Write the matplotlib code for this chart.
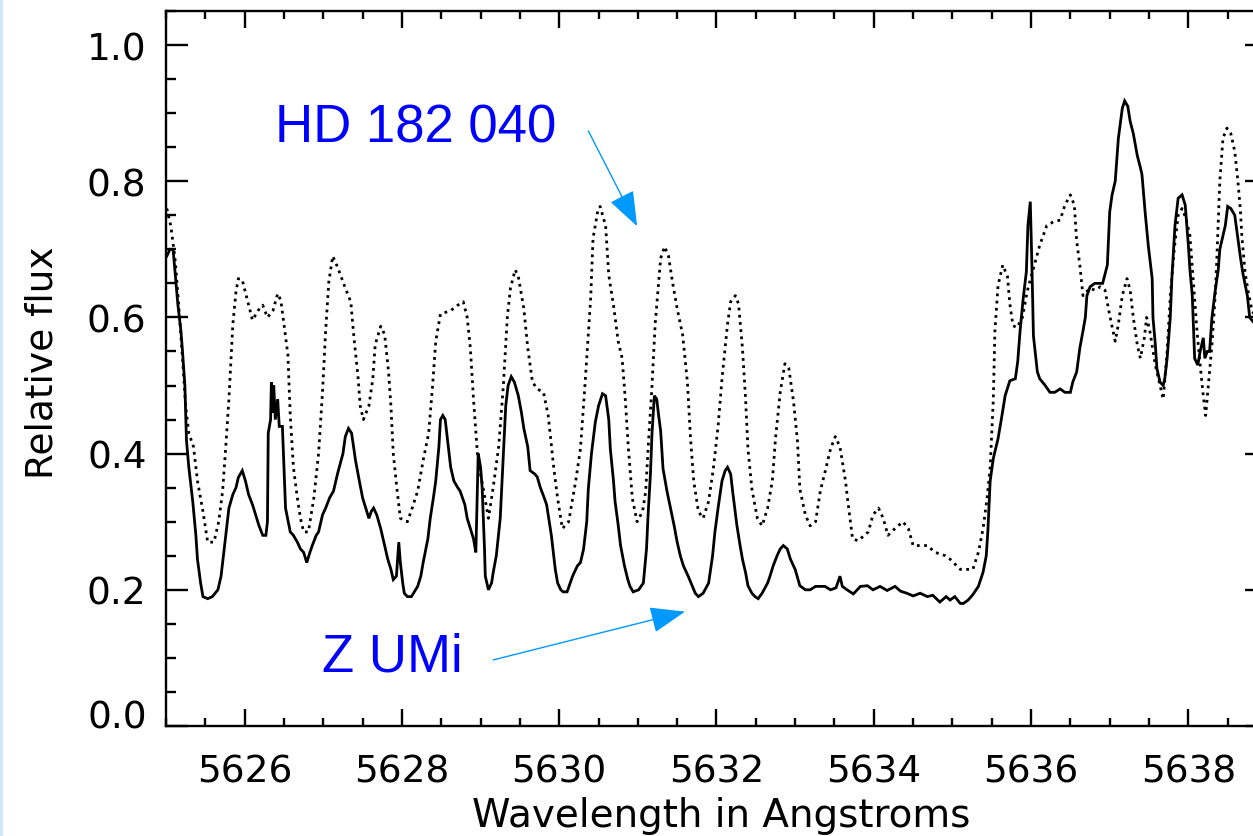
import matplotlib
matplotlib.use('Agg')

import matplotlib.pyplot as plt
import matplotlib.patches as patches
from matplotlib.ticker import MultipleLocator, FixedLocator, FixedFormatter

# Z UMi spectrum (solid)
z_umi_wave = [
    5625.01, 5625.05, 5625.09, 5625.12, 5625.15, 5625.19, 5625.21, 5625.24, 5625.26, 5625.29,
    5625.34, 5625.38, 5625.40, 5625.44, 5625.47, 5625.53, 5625.59, 5625.66, 5625.70, 5625.73,
    5625.77, 5625.80, 5625.85, 5625.89, 5625.92, 5625.97, 5626.01, 5626.05, 5626.10, 5626.14,
    5626.18, 5626.23, 5626.27, 5626.29, 5626.30, 5626.33, 5626.34, 5626.36, 5626.37, 5626.39,
    5626.42, 5626.44, 5626.48, 5626.52, 5626.58, 5626.62, 5626.67, 5626.71, 5626.75, 5626.79,
    5626.83, 5626.86, 5626.91, 5626.94, 5626.99, 5627.03, 5627.08, 5627.13, 5627.18, 5627.25,
    5627.28, 5627.32, 5627.36, 5627.41, 5627.45, 5627.50, 5627.54, 5627.58, 5627.61, 5627.64,
    5627.68, 5627.73, 5627.78, 5627.82, 5627.86, 5627.89, 5627.93, 5627.96, 5627.98, 5628.01,
    5628.03, 5628.07, 5628.12, 5628.20, 5628.24, 5628.27, 5628.33, 5628.36, 5628.40, 5628.43,
    5628.47, 5628.49, 5628.52, 5628.55, 5628.59, 5628.62, 5628.66, 5628.71, 5628.74, 5628.80,
    5628.83, 5628.87, 5628.91, 5628.94, 5628.96, 5628.97, 5629.00, 5629.02, 5629.05, 5629.06,
    5629.10, 5629.14, 5629.16, 5629.20, 5629.25, 5629.29, 5629.32, 5629.35, 5629.39, 5629.43,
    5629.48, 5629.52, 5629.55, 5629.60, 5629.63, 5629.69, 5629.72, 5629.76, 5629.80, 5629.84,
    5629.86, 5629.90, 5629.93, 5629.95, 5629.98, 5630.02, 5630.05, 5630.10, 5630.14, 5630.17,
    5630.21, 5630.23, 5630.27, 5630.31, 5630.35, 5630.37, 5630.41, 5630.46, 5630.50, 5630.55,
    5630.59, 5630.63, 5630.65, 5630.69, 5630.71, 5630.75, 5630.78, 5630.83, 5630.87, 5630.90,
    5630.94, 5631.01, 5631.07, 5631.11, 5631.13, 5631.16, 5631.18, 5631.21, 5631.24, 5631.26,
    5631.29, 5631.32, 5631.37, 5631.41, 5631.46, 5631.50, 5631.54, 5631.58, 5631.64, 5631.69,
    5631.73, 5631.77, 5631.83, 5631.90, 5631.95, 5631.98, 5632.02, 5632.07, 5632.11, 5632.14,
    5632.18, 5632.21, 5632.26, 5632.30, 5632.33, 5632.37, 5632.40, 5632.45, 5632.49, 5632.53,
    5632.58, 5632.65, 5632.68, 5632.72, 5632.77, 5632.81, 5632.85, 5632.90, 5632.94, 5633.00,
    5633.06, 5633.13, 5633.19, 5633.26, 5633.32, 5633.38, 5633.45, 5633.52, 5633.57, 5633.60,
    5633.66, 5633.74, 5633.83, 5633.92, 5633.99, 5634.08, 5634.17, 5634.27, 5634.34, 5634.42,
    5634.50, 5634.59, 5634.68, 5634.75, 5634.84, 5634.92, 5634.97, 5635.03, 5635.10, 5635.14,
    5635.20, 5635.26, 5635.33, 5635.39, 5635.43, 5635.45, 5635.48, 5635.52, 5635.58, 5635.63,
    5635.67, 5635.73, 5635.80, 5635.83, 5635.86, 5635.90, 5635.94, 5635.96, 5635.99, 5636.01,
    5636.03, 5636.08, 5636.11, 5636.18, 5636.24, 5636.30, 5636.37, 5636.43, 5636.50, 5636.53,
    5636.58, 5636.62, 5636.66, 5636.69, 5636.71, 5636.75, 5636.81, 5636.88, 5636.91, 5636.97,
    5637.00, 5637.03, 5637.07, 5637.11, 5637.16, 5637.19, 5637.23, 5637.26, 5637.30, 5637.35,
    5637.39, 5637.41, 5637.45, 5637.49, 5637.54, 5637.55, 5637.58, 5637.60, 5637.64, 5637.68,
    5637.70, 5637.73, 5637.77, 5637.79, 5637.83, 5637.87, 5637.92, 5637.96, 5638.00, 5638.02,
    5638.05, 5638.08, 5638.12, 5638.15, 5638.19, 5638.21, 5638.24, 5638.27, 5638.30, 5638.34,
    5638.38, 5638.40, 5638.44, 5638.47, 5638.50, 5638.54, 5638.59, 5638.63, 5638.66, 5638.69,
    5638.75, 5638.78, 5638.82, 5638.91, 5639.00,
]
z_umi_flux = [
    0.69, 0.70, 0.70, 0.66, 0.62, 0.58, 0.55, 0.50, 0.42, 0.38,
    0.33, 0.28, 0.245, 0.21, 0.19, 0.187, 0.19, 0.20, 0.22, 0.25,
    0.29, 0.32, 0.34, 0.35, 0.365, 0.375, 0.36, 0.34, 0.325, 0.31,
    0.295, 0.28, 0.28, 0.30, 0.43, 0.45, 0.505, 0.46, 0.50, 0.45,
    0.48, 0.44, 0.44, 0.32, 0.285, 0.28, 0.27, 0.26, 0.255, 0.24,
    0.255, 0.265, 0.28, 0.285, 0.31, 0.32, 0.335, 0.345, 0.37, 0.40,
    0.425, 0.437, 0.43, 0.39, 0.365, 0.335, 0.32, 0.305, 0.315, 0.32,
    0.31, 0.29, 0.265, 0.245, 0.23, 0.215, 0.22, 0.27, 0.24, 0.21,
    0.195, 0.19, 0.19, 0.205, 0.22, 0.24, 0.275, 0.305, 0.335, 0.36,
    0.41, 0.45, 0.456, 0.45, 0.41, 0.38, 0.36, 0.35, 0.345, 0.325,
    0.305, 0.29, 0.275, 0.255, 0.35, 0.40, 0.38, 0.35, 0.26, 0.22,
    0.20, 0.21, 0.225, 0.25, 0.305, 0.40, 0.47, 0.50, 0.513, 0.505,
    0.485, 0.46, 0.437, 0.41, 0.375, 0.37, 0.366, 0.35, 0.338, 0.325,
    0.31, 0.28, 0.25, 0.23, 0.21, 0.20, 0.197, 0.197, 0.21, 0.22,
    0.23, 0.235, 0.24, 0.26, 0.30, 0.348, 0.40, 0.447, 0.47, 0.488,
    0.485, 0.45, 0.407, 0.36, 0.33, 0.295, 0.265, 0.235, 0.216, 0.205,
    0.197, 0.20, 0.21, 0.26, 0.31, 0.37, 0.43, 0.485, 0.48, 0.46,
    0.433, 0.378, 0.345, 0.323, 0.295, 0.27, 0.25, 0.235, 0.22, 0.206,
    0.195, 0.19, 0.195, 0.21, 0.25, 0.285, 0.32, 0.36, 0.375, 0.38,
    0.37, 0.34, 0.294, 0.265, 0.245, 0.225, 0.206, 0.195, 0.19, 0.187,
    0.195, 0.21, 0.22, 0.235, 0.25, 0.26, 0.265, 0.26, 0.245, 0.23,
    0.206, 0.20, 0.20, 0.205, 0.205, 0.205, 0.20, 0.203, 0.22, 0.205,
    0.20, 0.194, 0.205, 0.206, 0.20, 0.205, 0.199, 0.205, 0.198, 0.195,
    0.191, 0.195, 0.19, 0.192, 0.182, 0.19, 0.185, 0.19, 0.18, 0.18,
    0.185, 0.193, 0.205, 0.226, 0.25, 0.285, 0.36, 0.393, 0.422, 0.456,
    0.485, 0.507, 0.51, 0.535, 0.58, 0.628, 0.667, 0.735, 0.77, 0.68,
    0.573, 0.52, 0.51, 0.50, 0.49, 0.49, 0.495, 0.49, 0.49, 0.505,
    0.52, 0.555, 0.58, 0.60, 0.632, 0.645, 0.65, 0.65, 0.65, 0.677,
    0.755, 0.78, 0.80, 0.863, 0.907, 0.918, 0.91, 0.888, 0.87, 0.838,
    0.82, 0.81, 0.755, 0.706, 0.657, 0.60, 0.56, 0.525, 0.505, 0.50,
    0.51, 0.54, 0.60, 0.657, 0.735, 0.775, 0.78, 0.765, 0.706, 0.67,
    0.632, 0.54, 0.53, 0.55, 0.57, 0.54, 0.55, 0.55, 0.60, 0.638,
    0.67, 0.70, 0.72, 0.735, 0.763, 0.76, 0.75, 0.716, 0.69, 0.667,
    0.632, 0.60, 0.594, 0.585, 0.58,
]

# HD 182 040 spectrum (dotted)
hd_wave = [
    5625.01, 5625.03, 5625.06, 5625.10, 5625.12, 5625.16, 5625.21, 5625.25, 5625.29, 5625.35,
    5625.40, 5625.47, 5625.53, 5625.61, 5625.67, 5625.72, 5625.76, 5625.80, 5625.85, 5625.89,
    5625.92, 5625.97, 5626.04, 5626.10, 5626.17, 5626.23, 5626.29, 5626.36, 5626.42, 5626.46,
    5626.50, 5626.55, 5626.58, 5626.62, 5626.67, 5626.71, 5626.75, 5626.81, 5626.88, 5626.94,
    5626.99, 5627.03, 5627.07, 5627.12, 5627.16, 5627.22, 5627.28, 5627.35, 5627.39, 5627.44,
    5627.47, 5627.51, 5627.58, 5627.63, 5627.66, 5627.73, 5627.78, 5627.83, 5627.86, 5627.89,
    5627.94, 5627.98, 5628.07, 5628.13, 5628.20, 5628.27, 5628.34, 5628.39, 5628.43, 5628.49,
    5628.62, 5628.71, 5628.78, 5628.83, 5628.87, 5628.91, 5628.96, 5629.00, 5629.04, 5629.10,
    5629.16, 5629.23, 5629.29, 5629.34, 5629.38, 5629.44, 5629.48, 5629.55, 5629.60, 5629.66,
    5629.72, 5629.80, 5629.86, 5629.93, 5629.98, 5630.04, 5630.12, 5630.21, 5630.27, 5630.33,
    5630.40, 5630.43, 5630.49, 5630.52, 5630.59, 5630.63, 5630.69, 5630.75, 5630.80, 5630.84,
    5630.88, 5630.93, 5630.99, 5631.06, 5631.10, 5631.13, 5631.18, 5631.22, 5631.29, 5631.34,
    5631.39, 5631.44, 5631.50, 5631.57, 5631.63, 5631.67, 5631.71, 5631.77, 5631.83, 5631.90,
    5631.96, 5632.02, 5632.07, 5632.14, 5632.18, 5632.24, 5632.28, 5632.33, 5632.37, 5632.40,
    5632.45, 5632.52, 5632.58, 5632.65, 5632.71, 5632.75, 5632.81, 5632.87, 5632.92, 5632.98,
    5633.03, 5633.06, 5633.13, 5633.19, 5633.26, 5633.32, 5633.38, 5633.45, 5633.51, 5633.57,
    5633.64, 5633.67, 5633.73, 5633.80, 5633.93, 5633.99, 5634.06, 5634.12, 5634.18, 5634.27,
    5634.37, 5634.44, 5634.50, 5634.68, 5634.78, 5634.91, 5634.97, 5635.10, 5635.26, 5635.33,
    5635.39, 5635.44, 5635.48, 5635.50, 5635.52, 5635.54, 5635.58, 5635.64, 5635.70, 5635.73,
    5635.77, 5635.82, 5635.89, 5635.95, 5636.03, 5636.11, 5636.20, 5636.28, 5636.37, 5636.43,
    5636.50, 5636.55, 5636.58, 5636.62, 5636.66, 5636.75, 5636.81, 5636.88, 5636.94, 5637.00,
    5637.07, 5637.11, 5637.16, 5637.22, 5637.26, 5637.30, 5637.35, 5637.39, 5637.44, 5637.47,
    5637.51, 5637.58, 5637.64, 5637.68, 5637.73, 5637.77, 5637.82, 5637.87, 5637.92, 5637.97,
    5638.02, 5638.06, 5638.11, 5638.15, 5638.19, 5638.22, 5638.27, 5638.30, 5638.34, 5638.36,
    5638.40, 5638.44, 5638.49, 5638.54, 5638.59, 5638.63, 5638.66, 5638.68, 5638.72, 5638.76,
    5638.81, 5638.91, 5639.00,
]
hd_flux = [
    0.76, 0.75, 0.735, 0.70, 0.68, 0.62, 0.54, 0.47, 0.43, 0.41,
    0.36, 0.315, 0.27, 0.27, 0.30, 0.345, 0.41, 0.48, 0.59, 0.638,
    0.657, 0.655, 0.623, 0.596, 0.61, 0.618, 0.60, 0.61, 0.635, 0.625,
    0.59, 0.545, 0.456, 0.38, 0.335, 0.305, 0.285, 0.285, 0.335, 0.40,
    0.49, 0.58, 0.652, 0.69, 0.68, 0.662, 0.643, 0.623, 0.57, 0.515,
    0.47, 0.45, 0.47, 0.51, 0.56, 0.587, 0.575, 0.52, 0.47, 0.40,
    0.345, 0.305, 0.30, 0.32, 0.345, 0.39, 0.43, 0.50, 0.565, 0.605,
    0.61, 0.618, 0.623, 0.60, 0.555, 0.48, 0.40, 0.37, 0.345, 0.305,
    0.35, 0.41, 0.50, 0.60, 0.643, 0.67, 0.66, 0.613, 0.555, 0.505,
    0.495, 0.49, 0.456, 0.38, 0.334, 0.29, 0.30, 0.36, 0.407, 0.505,
    0.628, 0.716, 0.756, 0.763, 0.735, 0.662, 0.618, 0.565, 0.54, 0.48,
    0.407, 0.334, 0.30, 0.315, 0.345, 0.407, 0.50, 0.59, 0.687, 0.704,
    0.69, 0.652, 0.613, 0.574, 0.505, 0.422, 0.36, 0.315, 0.305, 0.33,
    0.378, 0.44, 0.51, 0.59, 0.623, 0.632, 0.62, 0.555, 0.48, 0.407,
    0.348, 0.305, 0.294, 0.32, 0.36, 0.422, 0.49, 0.532, 0.525, 0.476,
    0.418, 0.348, 0.31, 0.294, 0.30, 0.345, 0.373, 0.407, 0.425, 0.41,
    0.36, 0.33, 0.275, 0.272, 0.285, 0.31, 0.32, 0.305, 0.28, 0.29,
    0.30, 0.29, 0.265, 0.265, 0.255, 0.25, 0.245, 0.23, 0.23, 0.255,
    0.29, 0.334, 0.38, 0.43, 0.48, 0.58, 0.647, 0.677, 0.66, 0.62,
    0.588, 0.585, 0.60, 0.638, 0.672, 0.706, 0.735, 0.74, 0.743, 0.765,
    0.78, 0.765, 0.712, 0.677, 0.632, 0.643, 0.64, 0.645, 0.64, 0.603,
    0.565, 0.59, 0.632, 0.657, 0.64, 0.60, 0.56, 0.54, 0.57, 0.60,
    0.58, 0.53, 0.50, 0.48, 0.55, 0.63, 0.70, 0.75, 0.76, 0.745,
    0.72, 0.657, 0.58, 0.53, 0.485, 0.456, 0.52, 0.56, 0.63, 0.68,
    0.80, 0.863, 0.878, 0.87, 0.844, 0.80, 0.76, 0.72, 0.667, 0.638,
    0.61, 0.59, 0.58,
]

x_major = [5626, 5628, 5630, 5632, 5634, 5636, 5638]
y_major = [0.0, 0.2, 0.4, 0.6, 0.8, 1.0]
y_labels = ['', '0.2', '0.4', '0.6', '0.8', '1.0']

ARROW_BLUE = '#0099ff'
TEXT_BLUE = '#0000ff'

plt.rcParams['font.family'] = ['DejaVu Sans']

fig = plt.figure(figsize=(12.53, 8.37), dpi=100)
# axes run slightly past the right edge of the canvas
ax = fig.add_axes([166 / 1253, 110 / 837, 1101 / 1253, 715 / 837])

# thin light-blue strip down the left edge
fig.patches.append(patches.Rectangle((0, 0), 3 / 1253, 1, transform=fig.transFigure,
                                     facecolor='#cfe6fb', edgecolor='none'))

ax.plot(z_umi_wave, z_umi_flux, color='black', lw=2.0, solid_joinstyle='miter')
ax.plot(hd_wave, hd_flux, color='black', lw=2.0, linestyle=(0, (1.0, 1.6)))

ax.set_xlim(5625, 5639)
ax.set_ylim(0, 1.05)

ax.xaxis.set_major_locator(FixedLocator(x_major))
ax.xaxis.set_minor_locator(MultipleLocator(0.5))
ax.yaxis.set_major_locator(FixedLocator(y_major))
ax.yaxis.set_major_formatter(FixedFormatter(y_labels))
ax.yaxis.set_minor_locator(MultipleLocator(0.05))

for sp in ax.spines.values():
    sp.set_linewidth(1.7)

ax.tick_params(axis='x', which='major', direction='in', length=12, width=1.7,
               top=True, labelsize=27, pad=20)
ax.tick_params(axis='x', which='minor', direction='in', length=6, width=1.7, top=True)
ax.tick_params(axis='y', which='major', direction='in', length=16, width=1.7,
               right=True, labelsize=27, pad=14)
ax.tick_params(axis='y', which='minor', direction='in', length=7, width=1.7, right=True)

# the zero label sits a little above its tick
ax.annotate('0.0', xy=(0, 0), xycoords=('axes fraction', 'data'),
            xytext=(-19, 12), textcoords='offset pixels',
            ha='right', va='center_baseline', fontsize=27)

ax.set_xlabel('Wavelength in Angstroms', fontsize=28)
ax.xaxis.set_label_coords(0.504, -0.098)
ax.set_ylabel('Relative flux', fontsize=27)
ax.yaxis.set_label_coords(-0.096, 0.51)

# star labels with arrows pointing at each spectrum
ax.text(5626.39, 0.859, 'HD 182 040', color=TEXT_BLUE, fontsize=38,
        family='Liberation Sans', va='baseline', ha='left')
ax.text(5626.99, 0.081, 'Z UMi', color=TEXT_BLUE, fontsize=38,
        family='Liberation Sans', va='baseline', ha='left')

arrow_style = '-|>,head_length=0.4,head_width=0.15'
ax.annotate('', xy=(5630.99, 0.734), xytext=(5630.37, 0.874),
            arrowprops=dict(arrowstyle=arrow_style, color=ARROW_BLUE, lw=1.0,
                            mutation_scale=55, shrinkA=0, shrinkB=0))
ax.annotate('', xy=(5631.60, 0.168), xytext=(5629.16, 0.097),
            arrowprops=dict(arrowstyle=arrow_style, color=ARROW_BLUE, lw=1.0,
                            mutation_scale=55, shrinkA=0, shrinkB=0))

fig.savefig('out.png', dpi=100)
